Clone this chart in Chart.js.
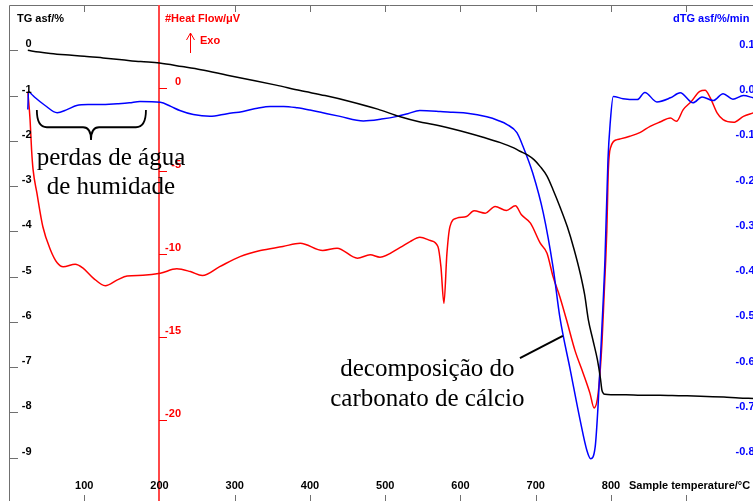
<!DOCTYPE html>
<html>
<head>
<meta charset="utf-8">
<script src="https://cdn.jsdelivr.net/npm/chart.js@4.4.1/dist/chart.umd.min.js"></script>
<style>
  html, body { margin: 0; padding: 0; background: #fff; overflow: hidden; }
  #frame { width: 753px; height: 501px; overflow: hidden; position: relative; }
  #chart { position: absolute; left: 0; top: 0; }
</style>
</head>
<body>
<div id="frame"><canvas id="chart" width="780" height="510"></canvas></div>
<script>
// --- TG curve (black), % mass change vs sample temperature
const tgTemp = [25, 40, 55, 75, 100, 125, 150, 175, 200, 230, 255, 290, 320, 355, 387, 420, 453, 490, 520, 545,
  564, 590, 609, 630, 653, 670, 679, 689, 698, 706, 715, 723, 732, 742, 751, 759, 765, 770, 776, 782,
  786, 788, 790, 792, 800, 820, 840, 865, 890, 919, 950, 970, 989];
const tgValues = [0, -0.04, -0.07, -0.10, -0.13, -0.17, -0.21, -0.25, -0.28, -0.36, -0.43, -0.55, -0.65, -0.77, -0.89, -1.00, -1.13, -1.30, -1.47, -1.58,
  -1.64, -1.74, -1.82, -1.92, -2.04, -2.15, -2.23, -2.31, -2.42, -2.57, -2.78, -3.08, -3.45, -3.90, -4.40, -4.92, -5.40, -5.96, -6.40, -6.84,
  -7.25, -7.51, -7.58, -7.60, -7.61, -7.61, -7.62, -7.62, -7.63, -7.64, -7.66, -7.68, -7.69];

// --- dTG curve (blue), %/min
const dtgTemp = [25, 26, 30, 35, 48, 64, 77, 90, 105, 121, 144, 160, 174, 201, 215, 227, 245, 267, 290, 311,
  330, 347, 365, 383, 400, 417, 440, 471, 495, 516, 530, 546, 573, 590, 609, 635, 650, 662, 675, 683,
  696, 710, 723, 732, 746, 759, 768, 773, 779, 783, 788, 792, 796, 799, 803, 816, 835, 845, 861, 879,
  892, 909, 921, 936, 949, 962, 976, 989];
const dtgValues = [-0.031, 0.009, 0.003, -0.005, -0.022, -0.038, -0.031, -0.022, -0.020, -0.020, -0.018, -0.016, -0.013, -0.015, -0.024, -0.033, -0.042, -0.046, -0.040, -0.035,
  -0.028, -0.024, -0.024, -0.027, -0.032, -0.038, -0.046, -0.056, -0.052, -0.046, -0.040, -0.033, -0.035, -0.037, -0.039, -0.047, -0.055, -0.064, -0.082, -0.112,
  -0.171, -0.259, -0.379, -0.489, -0.607, -0.717, -0.784, -0.802, -0.776, -0.680, -0.511, -0.363, -0.142, -0.060, -0.002, -0.007, -0.009, 0.007, -0.014, -0.005,
  0.006, -0.016, -0.003, -0.011, 0.004, -0.008, 0.000, -0.005];

// --- Heat flow (red), µV
const hfTemp = [25, 28, 30, 32, 37, 45, 55, 64, 72, 88, 98, 112, 128, 144, 157, 178, 201, 223, 241, 257,
  280, 307, 334, 364, 387, 417, 436, 463, 480, 493, 520, 533, 546, 560, 570, 574, 578, 582, 586, 595,
  608, 618, 633, 646, 661, 673, 681, 693, 706, 715, 723, 732, 741, 752, 763, 772, 777.5, 783, 788, 791,
  793, 794.5, 796.5, 800, 808, 812, 825, 839, 852, 865, 879, 887, 896, 907, 918, 925, 932, 941, 949, 963,
  976, 989];
const hfValues = [-0.22, -1.91, -3.72, -4.92, -6.31, -8.36, -9.74, -10.53, -10.77, -10.62, -10.84, -11.45, -11.91, -11.56, -11.32, -11.28, -11.16, -10.89, -11.06, -11.30,
  -10.76, -10.16, -9.79, -9.55, -9.35, -9.79, -9.65, -10.25, -10.05, -10.19, -9.60, -9.25, -8.99, -9.19, -9.55, -10.76, -12.97, -9.95, -8.35, -7.84,
  -7.74, -7.40, -7.54, -7.14, -7.38, -7.10, -7.64, -8.14, -9.35, -9.95, -11.36, -12.57, -13.98, -15.79, -17.18, -18.38, -19.27, -18.38, -15.37, -12.35,
  -10.36, -8.55, -4.92, -3.52, -3.11, -3.07, -2.91, -2.67, -2.31, -2.05, -1.81, -2.01, -1.30, -0.80, -0.20, -0.14, -0.60, -1.50, -1.91, -2.07,
  -1.71, -1.50];

// --- axes / ticks
const tempTicks = [100, 200, 300, 400, 500, 600, 700, 800, 900];
const tempLabels = ['100', '200', '300', '400', '500', '600', '700', '800', ''];
const tgTicks = [0, -1, -2, -3, -4, -5, -6, -7, -8, -9];
const hfTicks = [0, -5, -10, -15, -20];
const dtgTicks = [0.1, 0.0, -0.1, -0.2, -0.3, -0.4, -0.5, -0.6, -0.7, -0.8];
const hfAxisAt = 200; // heat flow axis sits at 200 °C

const BOLD = 'bold 11px "Liberation Sans", Arial, sans-serif';
const SERIF = '25px "Liberation Serif", "Times New Roman", serif';

const toPoints = (xs, ys) => xs.map((x, i) => ({ x: x, y: ys[i] }));

function seg(ctx, x1, y1, x2, y2) {
    ctx.beginPath();
    ctx.moveTo(x1, y1);
    ctx.lineTo(x2, y2);
    ctx.stroke();
}
const px = v => Math.round(v) + 0.5;

// axes drawn by hand (ticks inside the frame, like the instrument software)
const staAxes = {
    id: 'staAxes',
    beforeDatasetsDraw(chart) {
        const { ctx, chartArea: a, scales } = chart;
        const { x, yTG, yHF, yDTG } = scales;
        ctx.save();
        ctx.lineWidth = 1;

        // grey frame + ticks
        ctx.strokeStyle = '#707070';
        ctx.beginPath();
        ctx.moveTo(px(a.left), a.bottom);
        ctx.lineTo(px(a.left), px(a.top));
        ctx.lineTo(px(a.right), px(a.top));
        ctx.lineTo(px(a.right), a.bottom);
        ctx.stroke();
        seg(ctx, a.left, px(a.bottom), a.right, px(a.bottom));

        tempTicks.forEach(t => {
            const xx = px(x.getPixelForValue(t));
            seg(ctx, xx, a.top, xx, a.top + 7);
            seg(ctx, xx, a.bottom, xx, a.bottom - 8);
        });
        tgTicks.forEach(v => {
            const yy = px(yTG.getPixelForValue(v));
            seg(ctx, a.left, yy, a.left + 9, yy);
        });
        ctx.strokeStyle = '#0000ff';
        dtgTicks.forEach(v => {
            const yy = px(yDTG.getPixelForValue(v));
            seg(ctx, a.right, yy, a.right - 9, yy);
        });

        // red heat flow axis
        ctx.strokeStyle = '#ff4848';
        ctx.lineWidth = 2;
        const rx = Math.round(x.getPixelForValue(hfAxisAt));
        seg(ctx, rx, a.top, rx, a.bottom);
        ctx.lineWidth = 1;
        ctx.strokeStyle = '#ff0000';
        hfTicks.forEach(v => {
            const yy = px(yHF.getPixelForValue(v));
            seg(ctx, rx, yy, rx + 8, yy);
        });
        ctx.restore();
    },
    afterDatasetsDraw(chart) {
        const { ctx, chartArea: a, scales } = chart;
        const { x, yTG, yHF, yDTG } = scales;
        const rx = Math.round(x.getPixelForValue(hfAxisAt));
        ctx.save();
        ctx.font = BOLD;
        ctx.textBaseline = 'alphabetic';

        // tick labels
        ctx.fillStyle = '#000';
        ctx.textAlign = 'right';
        tgTicks.forEach(v => ctx.fillText(String(v), a.left + 22.5, yTG.getPixelForValue(v) - 3));
        ctx.textAlign = 'center';
        tempTicks.forEach((t, i) => ctx.fillText(tempLabels[i], x.getPixelForValue(t), a.bottom - 14));
        ctx.fillStyle = '#ff0000';
        ctx.textAlign = 'right';
        hfTicks.forEach(v => ctx.fillText(String(v), rx + 22, yHF.getPixelForValue(v) - 3));
        ctx.fillStyle = '#0000ff';
        dtgTicks.forEach(v => ctx.fillText(v.toFixed(1), a.right - 14.5, yDTG.getPixelForValue(v) - 2.5));

        // axis titles
        ctx.textAlign = 'left';
        ctx.fillStyle = '#000';
        ctx.fillText('TG asf/%', a.left + 8, a.top + 17);
        ctx.fillText('Sample temperature/\u00b0C', a.right - 140, a.bottom - 14);
        ctx.fillStyle = '#0000ff';
        ctx.fillText('dTG asf/%/min', a.right - 96, a.top + 17);
        ctx.fillStyle = '#ff0000';
        ctx.fillText('#Heat Flow/\u03bcV', rx + 6, a.top + 17);
        ctx.fillText('Exo', rx + 41, a.top + 39);
        // exo arrow
        ctx.strokeStyle = '#ff0000';
        ctx.lineWidth = 1;
        const ax = rx + 31.5;
        seg(ctx, ax, a.top + 48, ax, a.top + 28);
        ctx.beginPath();
        ctx.moveTo(ax - 4, a.top + 35);
        ctx.lineTo(ax, a.top + 28);
        ctx.lineTo(ax + 4, a.top + 35);
        ctx.stroke();

        // annotations (Portuguese notes on the figure)
        ctx.fillStyle = '#000';
        ctx.strokeStyle = '#000';
        ctx.font = SERIF;
        ctx.textAlign = 'center';
        const wx = x.getPixelForValue(135.5);
        ctx.fillText('perdas de água', wx, yTG.getPixelForValue(-2.53));
        ctx.fillText('de humidade', wx, yTG.getPixelForValue(-3.18));
        const cx = x.getPixelForValue(556);
        ctx.fillText('decomposição do', cx, yTG.getPixelForValue(-7.19));
        ctx.fillText('carbonato de cálcio', cx, yTG.getPixelForValue(-7.86));

        // brace under the early dTG plateau
        ctx.lineWidth = 1.8;
        const bl = x.getPixelForValue(37), br = x.getPixelForValue(182), bm = x.getPixelForValue(109);
        const yt = yTG.getPixelForValue(-1.32), yb = yTG.getPixelForValue(-1.70), yp = yTG.getPixelForValue(-1.98);
        ctx.beginPath();
        ctx.moveTo(bl, yt);
        ctx.quadraticCurveTo(bl, yb, bl + 10, yb);
        ctx.lineTo(bm - 8, yb);
        ctx.quadraticCurveTo(bm, yb, bm, yp);
        ctx.quadraticCurveTo(bm, yb, bm + 8, yb);
        ctx.lineTo(br - 10, yb);
        ctx.quadraticCurveTo(br, yb, br, yt);
        ctx.stroke();

        // pointer to the decomposition step
        ctx.lineWidth = 2;
        seg(ctx, x.getPixelForValue(679), yTG.getPixelForValue(-6.80), x.getPixelForValue(736), yTG.getPixelForValue(-6.31));
        ctx.restore();
    }
};

const lineStyle = { borderWidth: 1.5, pointRadius: 0, fill: false, cubicInterpolationMode: 'monotone' };

new Chart(document.getElementById('chart'), {
    type: 'line',
    data: {
        datasets: [
            { label: 'TG', data: toPoints(tgTemp, tgValues), borderColor: '#000000', yAxisID: 'yTG', ...lineStyle },
            { label: 'dTG', data: toPoints(dtgTemp, dtgValues), borderColor: '#0000ff', yAxisID: 'yDTG', ...lineStyle },
            { label: 'Heat Flow', data: toPoints(hfTemp, hfValues), borderColor: '#ff0000', yAxisID: 'yHF', ...lineStyle }
        ]
    },
    options: {
        responsive: false,
        animation: false,
        layout: { padding: { left: 9, top: 5, right: 11, bottom: 7 } },
        plugins: { legend: { display: false }, tooltip: { enabled: false } },
        scales: {
            x: { type: 'linear', min: 0, max: 1010, display: false },
            yTG: { type: 'linear', position: 'left', min: -10, max: 1, display: false },
            yHF: { type: 'linear', position: 'left', min: -25, max: 5, display: false },
            yDTG: { type: 'linear', position: 'right', min: -0.9, max: 0.2, display: false }
        }
    },
    plugins: [staAxes]
});
</script>
</body>
</html>
